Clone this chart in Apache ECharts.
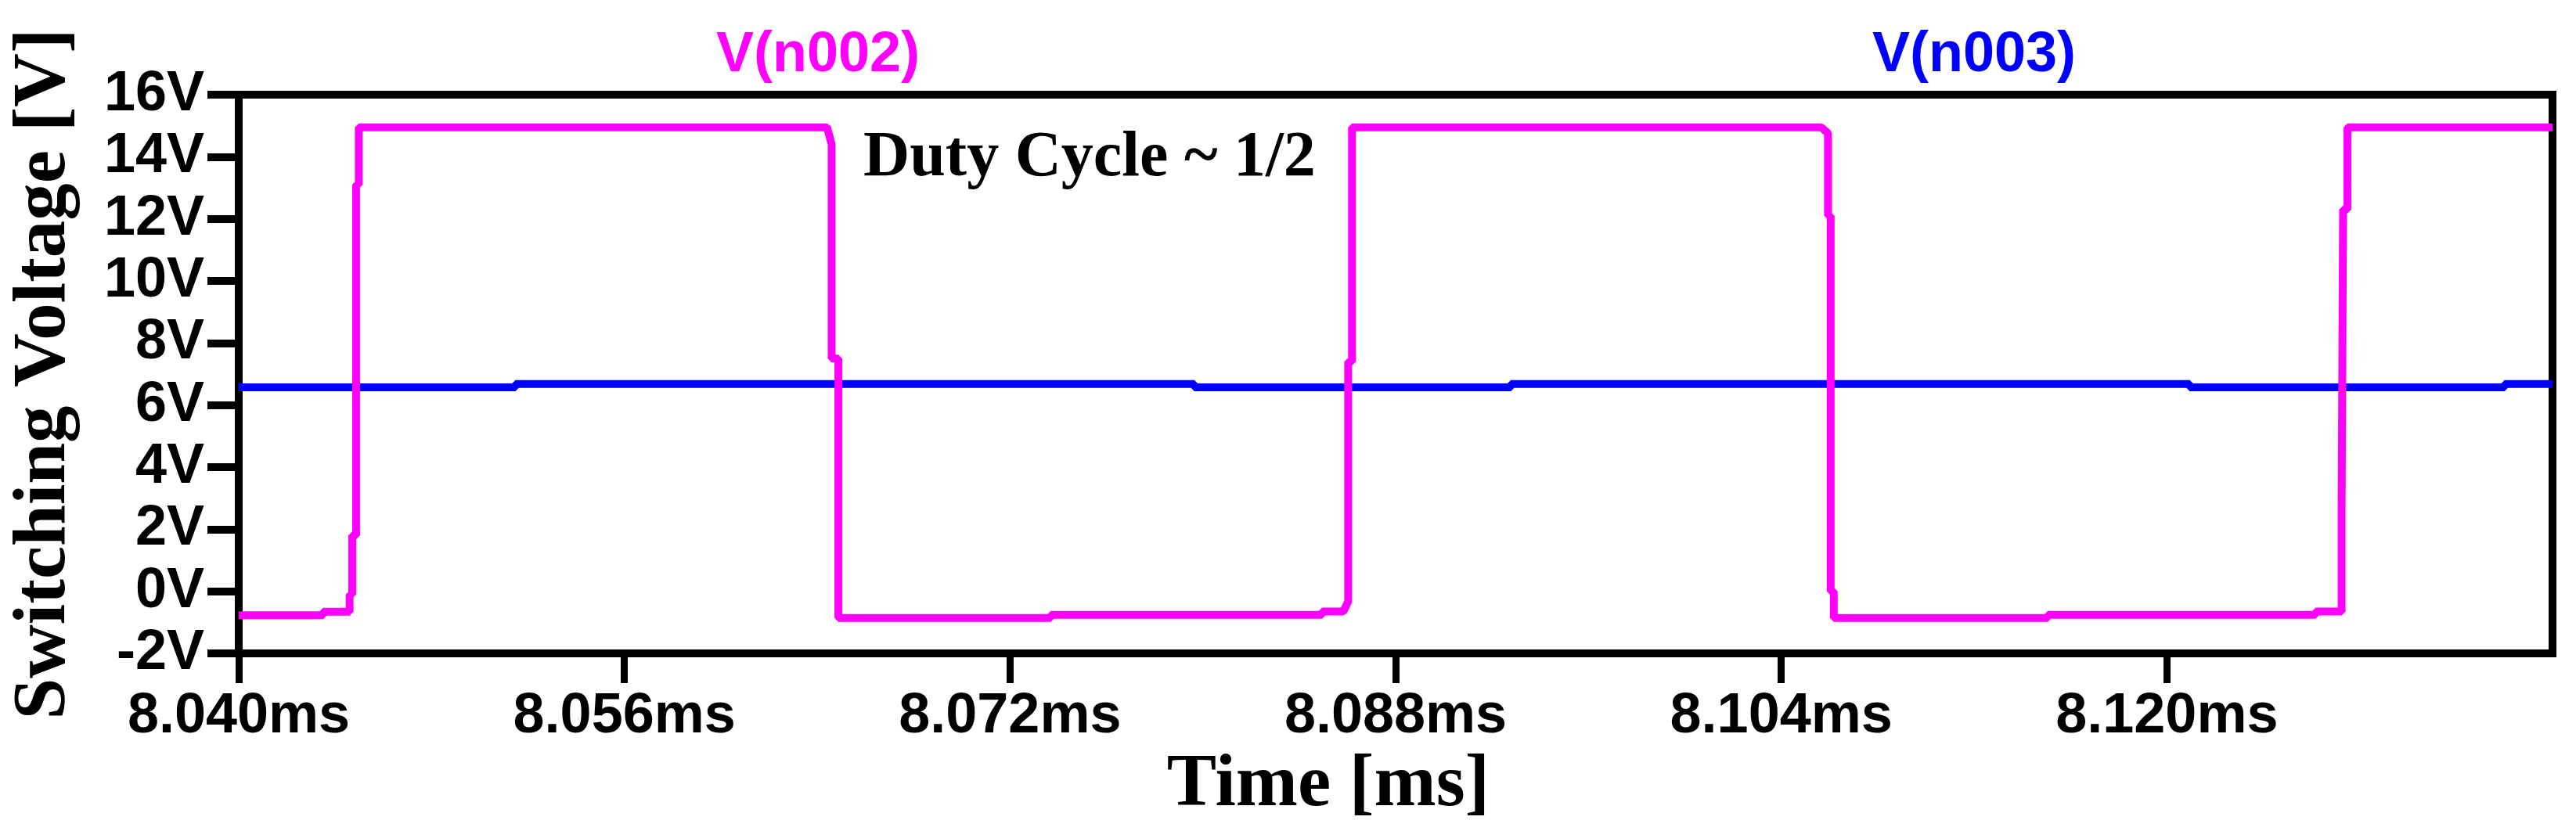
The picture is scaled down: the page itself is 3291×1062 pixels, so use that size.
<!DOCTYPE html>
<html>
<head>
<meta charset="utf-8">
<script src="https://cdn.jsdelivr.net/npm/echarts/dist/echarts.min.js"></script>
<style>
  html, body { margin: 0; padding: 0; background: #fff; }
  #chart { width: 3291px; height: 1062px; }
</style>
</head>
<body>
<div id="chart"></div>
<script>
// ---- Data (time in ms, voltage in V) ----
const seriesNames = ['V(n002)', 'V(n003)'];

const magentaT = [8.04000, 8.04350, 8.04350, 8.04460, 8.04460, 8.04471, 8.04471, 8.04487, 8.04487, 8.04498, 8.04498,
                  8.06441, 8.06460, 8.06460, 8.06488, 8.06488, 8.07369, 8.07369, 8.08495, 8.08495,
                  8.08583, 8.08603, 8.08603, 8.08619, 8.08619,
                  8.10566, 8.10594, 8.10594, 8.10605, 8.10605, 8.10618, 8.10618, 8.11506, 8.11506, 8.12617, 8.12617,
                  8.12725, 8.12725, 8.12731, 8.12731, 8.12749, 8.12749, 8.13600];
const magentaV = [-0.77, -0.77, -0.66, -0.66, -0.10, -0.10, 1.80, 1.80, 13.10, 13.10, 14.95,
                  14.95, 14.40, 7.50, 7.50, -0.86, -0.86, -0.76, -0.76, -0.65,
                  -0.65, -0.33, 7.40, 7.40, 14.95,
                  14.95, 14.76, 12.10, 12.10, 0.00, 0.00, -0.86, -0.86, -0.76, -0.76, -0.65,
                  -0.65, 2.60, 2.60, 12.30, 12.30, 14.95, 14.95];

const blueT = [8.04000, 8.05148, 8.05148, 8.07965, 8.07965, 8.09278, 8.09278, 8.12095, 8.12095, 8.13401, 8.13401, 8.13600];
const blueV = [6.57, 6.57, 6.68, 6.68, 6.57, 6.57, 6.68, 6.68, 6.57, 6.57, 6.68, 6.68];

const xMin = 8.040, xMax = 8.136, xStep = 0.016;
const yMin = -2, yMax = 16, yStep = 2;

const xTitle = 'Time [ms]';
const yTitle = 'Switching Voltage [V]';
const annotation = 'Duty Cycle ~ 1/2';

// ---- Chart ----
const chart = echarts.init(document.getElementById('chart'), null, { renderer: 'canvas' });
const sans = '"Liberation Sans", Arial, sans-serif';
const serif = '"Liberation Serif", "Times New Roman", serif';

const option = {
  animation: false,
  backgroundColor: '#ffffff',
  grid: {
    left: 305, right: 30, top: 121, bottom: 227,
    show: true, borderColor: '#000', borderWidth: 10, backgroundColor: 'transparent'
  },
  legend: [
    {
      data: [seriesNames[0]], left: 905, top: 30, icon: 'none', itemWidth: 0, itemHeight: 0,
      textStyle: { color: '#FF00FF', fontFamily: sans, fontWeight: 'bold', fontSize: 72 }
    },
    {
      data: [seriesNames[1]], left: 2382, top: 30, icon: 'none', itemWidth: 0, itemHeight: 0,
      textStyle: { color: '#0000FF', fontFamily: sans, fontWeight: 'bold', fontSize: 72 }
    }
  ],
  xAxis: {
    type: 'value', min: xMin, max: xMax, interval: xStep,
    name: xTitle, nameLocation: 'middle', nameGap: 106,
    nameTextStyle: { fontFamily: serif, fontWeight: 'bold', fontSize: 95, color: '#000', padding: [0, 172, 0, 0] },
    axisLine: { show: true, onZero: false, lineStyle: { color: '#000', width: 10 } },
    axisTick: { show: true, length: 38, lineStyle: { color: '#000', width: 9 } },
    axisLabel: {
      show: true, margin: 45, showMaxLabel: false, color: '#000',
      fontFamily: sans, fontWeight: 'bold', fontSize: 72,
      formatter: v => v.toFixed(3) + 'ms'
    },
    splitLine: { show: false }
  },
  yAxis: {
    type: 'value', min: yMin, max: yMax, interval: yStep,
    name: yTitle, nameLocation: 'middle', nameGap: 200,
    nameTextStyle: { fontFamily: serif, fontWeight: 'bold', fontSize: 95, color: '#000' },
    axisLine: { show: true, onZero: false, lineStyle: { color: '#000', width: 10 } },
    axisTick: { show: true, length: 40, lineStyle: { color: '#000', width: 10 } },
    axisLabel: {
      show: true, margin: 44, color: '#000',
      fontFamily: sans, fontWeight: 'bold', fontSize: 72,
      formatter: v => v + 'V'
    },
    splitLine: { show: false }
  },
  graphic: [
    {
      type: 'text', x: 1103, y: 203, z: 100,
      style: { text: annotation, font: 'bold 82px ' + serif, fill: '#000', align: 'left', verticalAlign: 'middle' }
    }
  ],
  series: [
    {
      name: seriesNames[1], type: 'line', symbol: 'none', showSymbol: false, z: 2,
      data: blueT.map((t, i) => [t, blueV[i]]),
      itemStyle: { color: '#0000FF' },
      lineStyle: { color: '#0000FF', width: 10 }
    },
    {
      name: seriesNames[0], type: 'line', symbol: 'none', showSymbol: false, z: 3,
      data: magentaT.map((t, i) => [t, magentaV[i]]),
      itemStyle: { color: '#FF00FF' },
      lineStyle: { color: '#FF00FF', width: 10 }
    }
  ]
};
chart.setOption(option);
</script>
</body>
</html>
